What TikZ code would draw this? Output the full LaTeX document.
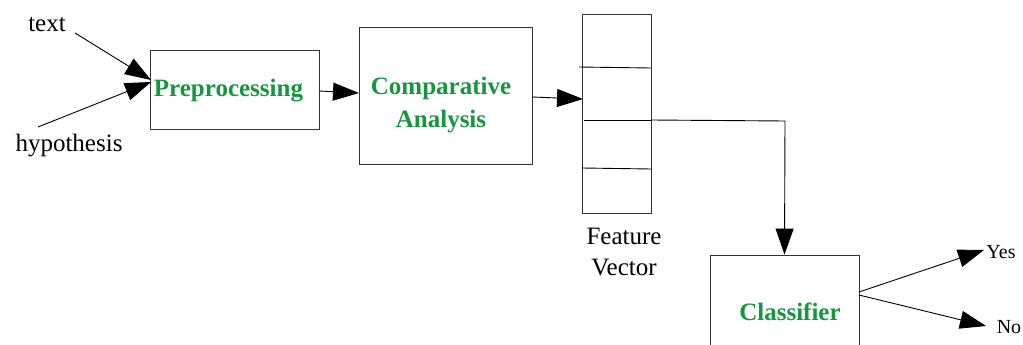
\documentclass[tikz,border=0pt]{standalone}
\usepackage{fontspec}
\setmainfont{Liberation Serif}
\usetikzlibrary{arrows.meta}
\definecolor{lblgreen}{RGB}{22,150,62}
\tikzset{
  box/.style={draw=black!80, line width=0.9pt, rectangle, inner sep=0pt},
  lbl/.style={inner sep=0pt, font=\fontsize{25}{30}\selectfont},
  glbl/.style={inner sep=0pt, text=lblgreen, align=center, font=\fontsize{25}{33}\selectfont\bfseries},
  arr/.style={line width=0.9pt, -{Triangle[length=26pt,width=18pt]}},
  ln/.style={line width=0.9pt}
}
\begin{document}
\begin{tikzpicture}[x=1pt,y=-1pt]
\useasboundingbox (0,0) rectangle (1023,345);
\clip (0,0) rectangle (1023,345);
% labels
\node[lbl] (txt) at (47,25) {text};
\node[lbl] (hyp) at (69,146) {hypothesis};
% boxes
\node[box, minimum width=169pt, minimum height=79pt] (pre) at (234.5,89.5) {};
\node[glbl] (preT) at (228.5,91) {Preprocessing};
\node[box, minimum width=173pt, minimum height=137pt] (cmp) at (445.5,95.5) {};
\node[glbl] (cmpT) at (441,105) {Comparative\\Analysis};
\node[box, minimum width=69pt, minimum height=199pt] (fv) at (616.5,113.5) {};
\node[lbl, align=center, font=\fontsize{25}{31}\selectfont] (fvT) at (624,252) {Feature\\Vector};
\node[box, minimum width=149pt, minimum height=110pt] (cls) at (784.5,310) {};
\node[glbl] (clsT) at (790,312) {Classifier};
\node[lbl, font=\fontsize{20}{24}\selectfont] (yes) at (1001,252) {Yes};
\node[lbl, font=\fontsize{20}{24}\selectfont] (no) at (1009,327) {No};
% vector dividers
\coordinate (d1a) at (579,67);
\coordinate (d1b) at (651,68);
\coordinate (d2a) at (584,120);
\coordinate (d2b) at (651,120);
\coordinate (d3a) at (582,168);
\coordinate (d3b) at (651,169);
\draw[ln] (d1a) -- (d1b);
\draw[ln] (d2a) -- (d2b);
\draw[ln] (d3a) -- (d3b);
% connector anchors
\coordinate (t0) at (75,33);
\coordinate (h0) at (38,127);
\coordinate (preIn1) at (151,80);
\coordinate (preIn2) at (151,82);
\coordinate (preOut) at (319,91);
\coordinate (cmpIn) at (359,93);
\coordinate (cmpOut) at (532,97);
\coordinate (fvIn) at (583,99);
\coordinate (clsOut1) at (859,292);
\coordinate (clsOut2) at (859,295);
\coordinate (yesIn) at (984,250);
\coordinate (noIn) at (986,326);
% connectors
\draw[arr] (t0) -- (preIn1);
\draw[arr] (h0) -- (preIn2);
\draw[arr] (preOut) -- (cmpIn);
\draw[arr] (cmpOut) -- (fvIn);
\draw[arr] (d2b) -- (785,121) -- (cls.north);
\draw[arr] (clsOut1) -- (yesIn);
\draw[arr] (clsOut2) -- (noIn);
\end{tikzpicture}
\end{document}
